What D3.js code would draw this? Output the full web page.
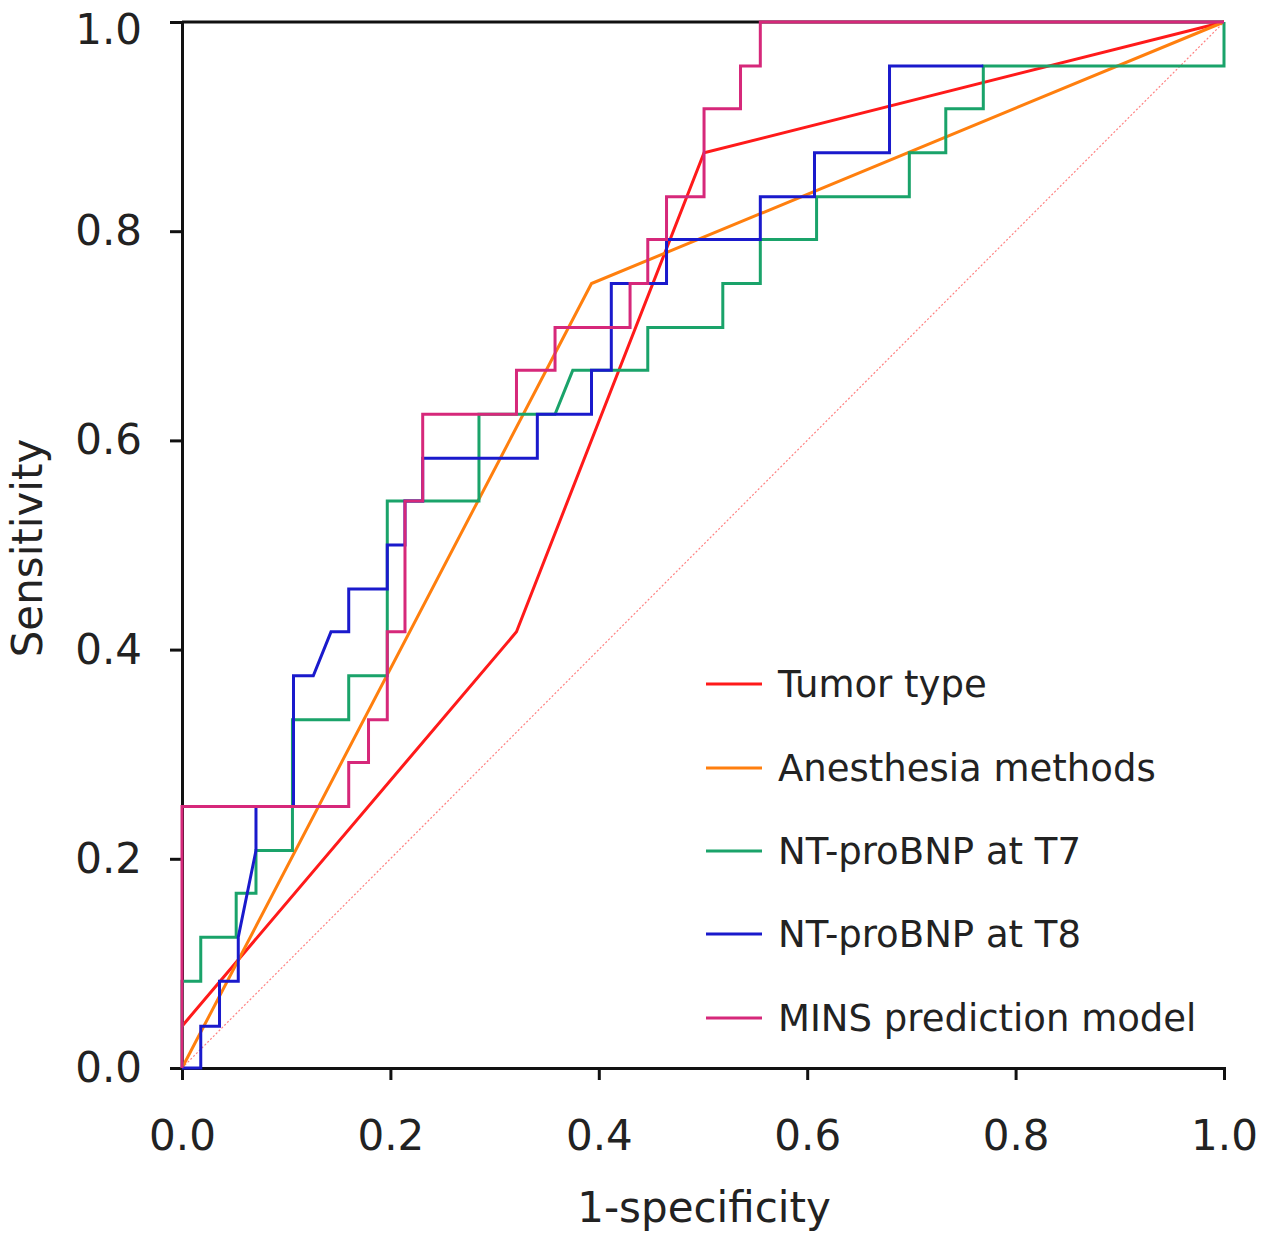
<!DOCTYPE html>
<html><head><meta charset="utf-8">
<script src="https://cdn.jsdelivr.net/npm/d3@7/dist/d3.min.js"></script>
<style>body{margin:0;background:#fff}svg{display:block}text{font-family:"DejaVu Sans",Verdana,sans-serif;fill:#222}</style>
</head><body><svg id="c" width="1264" height="1236"></svg>
<script>
const ticks=[0,0.2,0.4,0.6,0.8,1.0];
const seriesNames=["Tumor type","Anesthesia methods","NT-proBNP at T7","NT-proBNP at T8","MINS prediction model"];
const seriesColors=["#ff1a1a","#ff7f0e","#1aa36a","#1a1acc","#d6287a"];
const tumor=[[0,0.04],[0.321,0.417],[0.501,0.875],[1,1]];
const anesthesia=[[0,0],[0.393,0.75],[1,1]];
const t7=[[0,0],[0,0.083],[0.018,0.083],[0.018,0.125],[0.052,0.125],[0.052,0.167],[0.071,0.167],[0.071,0.208],[0.106,0.208],[0.106,0.333],[0.16,0.333],[0.16,0.375],[0.197,0.375],[0.197,0.542],[0.285,0.542],[0.285,0.625],[0.358,0.625],[0.375,0.667],[0.447,0.667],[0.447,0.708],[0.519,0.708],[0.519,0.75],[0.555,0.75],[0.555,0.792],[0.609,0.792],[0.609,0.833],[0.698,0.833],[0.698,0.875],[0.733,0.875],[0.733,0.917],[0.769,0.917],[0.769,0.958],[1,0.958],[1,1]];
const t8=[[0,0],[0.018,0],[0.018,0.04],[0.036,0.04],[0.036,0.083],[0.054,0.083],[0.054,0.125],[0.071,0.208],[0.071,0.25],[0.107,0.25],[0.107,0.375],[0.126,0.375],[0.143,0.417],[0.16,0.417],[0.16,0.458],[0.197,0.458],[0.197,0.5],[0.214,0.5],[0.214,0.542],[0.231,0.542],[0.231,0.583],[0.341,0.583],[0.341,0.625],[0.393,0.625],[0.393,0.667],[0.412,0.667],[0.412,0.75],[0.465,0.75],[0.465,0.792],[0.555,0.792],[0.555,0.833],[0.607,0.833],[0.607,0.875],[0.679,0.875],[0.679,0.958],[0.769,0.958]];
const mins=[[0,0],[0,0.25],[0.16,0.25],[0.16,0.292],[0.179,0.292],[0.179,0.333],[0.197,0.333],[0.197,0.417],[0.214,0.417],[0.214,0.542],[0.231,0.542],[0.231,0.625],[0.321,0.625],[0.321,0.667],[0.358,0.667],[0.358,0.708],[0.43,0.708],[0.43,0.75],[0.447,0.75],[0.447,0.792],[0.465,0.792],[0.465,0.833],[0.501,0.833],[0.501,0.917],[0.536,0.917],[0.536,0.958],[0.555,0.958],[0.555,1],[1,1]];
const data=[tumor,anesthesia,t7,t8,mins];

const svg=d3.select("#c");
const x=d3.scaleLinear().domain([0,1]).range([182,1224]);
const y=d3.scaleLinear().domain([0,1]).range([1068,22]);
svg.append("line").attr("x1",x(0)).attr("y1",y(0)).attr("x2",x(1)).attr("y2",y(1)).attr("stroke","#ff8080").attr("stroke-width",1.2).attr("stroke-dasharray","2,2");
svg.append("line").attr("x1",x(0)).attr("x2",x(1)).attr("y1",y(1)).attr("y2",y(1)).attr("stroke","#111").attr("stroke-width",3);
const xa=svg.append("g").attr("transform","translate(0,1068)").call(d3.axisBottom(x).tickValues(ticks).tickFormat(d3.format(".1f")).tickSize(12).tickPadding(40));
const ya=svg.append("g").attr("transform","translate(182,0)").call(d3.axisLeft(y).tickValues(ticks).tickFormat(d3.format(".1f")).tickSize(12).tickPadding(28));
[xa,ya].forEach(a=>{a.selectAll("path,line").attr("stroke","#111").attr("stroke-width",3);a.selectAll("text").style("font-size","42px").attr("fill","#222");});
ya.selectAll("text").filter(d=>d===1).attr("dy","0.5em");
const line=d3.line().x(d=>x(d[0])).y(d=>y(d[1]));
data.forEach((d,i)=>svg.append("path").attr("d",line(d)).attr("fill","none").attr("stroke",seriesColors[i]).attr("stroke-width",3));
const ly=[684,768,851,934,1018];
seriesNames.forEach((n,i)=>{
 svg.append("line").attr("x1",706).attr("x2",762).attr("y1",ly[i]).attr("y2",ly[i]).attr("stroke",seriesColors[i]).attr("stroke-width",3);
 svg.append("text").attr("x",778).attr("y",ly[i]).attr("dy","0.35em").style("font-size","37px").text(n);
});
svg.append("text").attr("x",704).attr("y",1222).attr("text-anchor","middle").style("font-size","42px").text("1-specificity");
svg.append("text").attr("transform","translate(42,548) rotate(-90)").attr("text-anchor","middle").style("font-size","42px").text("Sensitivity");
</script></body></html>
